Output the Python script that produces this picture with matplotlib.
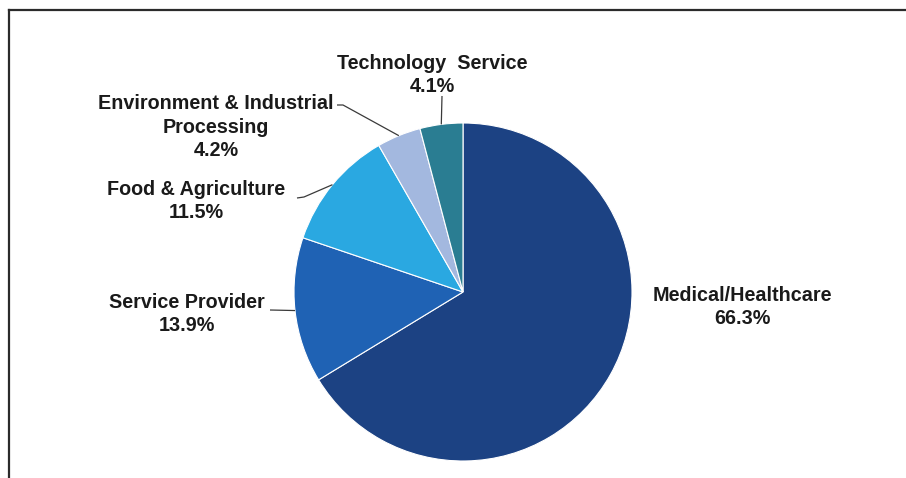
import numpy as np
import matplotlib
matplotlib.use('Agg')
import matplotlib.pyplot as plt
from matplotlib.lines import Line2D

# sectors, clockwise from 12 o'clock
sectors = ['Medical/Healthcare', 'Service Provider', 'Food & Agriculture',
           'Environment & Industrial\nProcessing', 'Technology  Service']
shares = [66.3, 13.9, 11.5, 4.2, 4.1]
colors = ['#1c4283', '#1f62b4', '#2aa8e1', '#a3b8df', '#2a7d92']

W, H = 906, 478
fig = plt.figure(figsize=(W / 100, H / 100), dpi=100)
ax = fig.add_axes([0, 0, 1, 1])

cx, cy, r = 463, H - 292, 169
ax.pie(shares, colors=colors, startangle=90, counterclock=False,
       center=(cx, cy), radius=r, frame=True,
       wedgeprops={'edgecolor': 'white', 'linewidth': 0.8})
ax.set_xlim(0, W)
ax.set_ylim(0, H)
ax.set_aspect('equal')
ax.axis('off')

# label block centres and leader end points (pixels from top-left)
label_xy = [(742, 307), (187, 314), (196, 201), (216, 127), (432, 75)]
leader_to = [None, [(270, 310)], [(304, 197), (297, 198)],
             [(343, 105), (337, 105)], [(442, 96)]]

txt = dict(fontsize=14.2, fontweight='bold', family='Liberation Sans',
           color='#1a1a1a', ha='center', va='center', linespacing=1.3)

cum = np.cumsum([0] + shares[:-1])
for name, val, c0, (lx, ly), pts in zip(sectors, shares, cum, label_xy, leader_to):
    ax.text(lx, H - ly, f'{name}\n{val}%', **txt)
    if pts is None:
        continue
    mid = np.deg2rad(90 - (c0 + val / 2) * 3.6)
    ex, ey = cx + r * np.cos(mid), cy + r * np.sin(mid)
    xs = [ex] + [p[0] for p in pts]
    ys = [ey] + [H - p[1] for p in pts]
    ax.plot(xs, ys, color='#3a3a3a', lw=0.9, solid_capstyle='butt')

# frame lines along top and left
fig.add_artist(Line2D([9 / W, 1], [1 - 10 / H, 1 - 10 / H], color='#2b2b2b', lw=1.6))
fig.add_artist(Line2D([9 / W, 9 / W], [0, 1 - 10 / H], color='#2b2b2b', lw=1.6))

fig.savefig('out.png', dpi=100, facecolor='white')
